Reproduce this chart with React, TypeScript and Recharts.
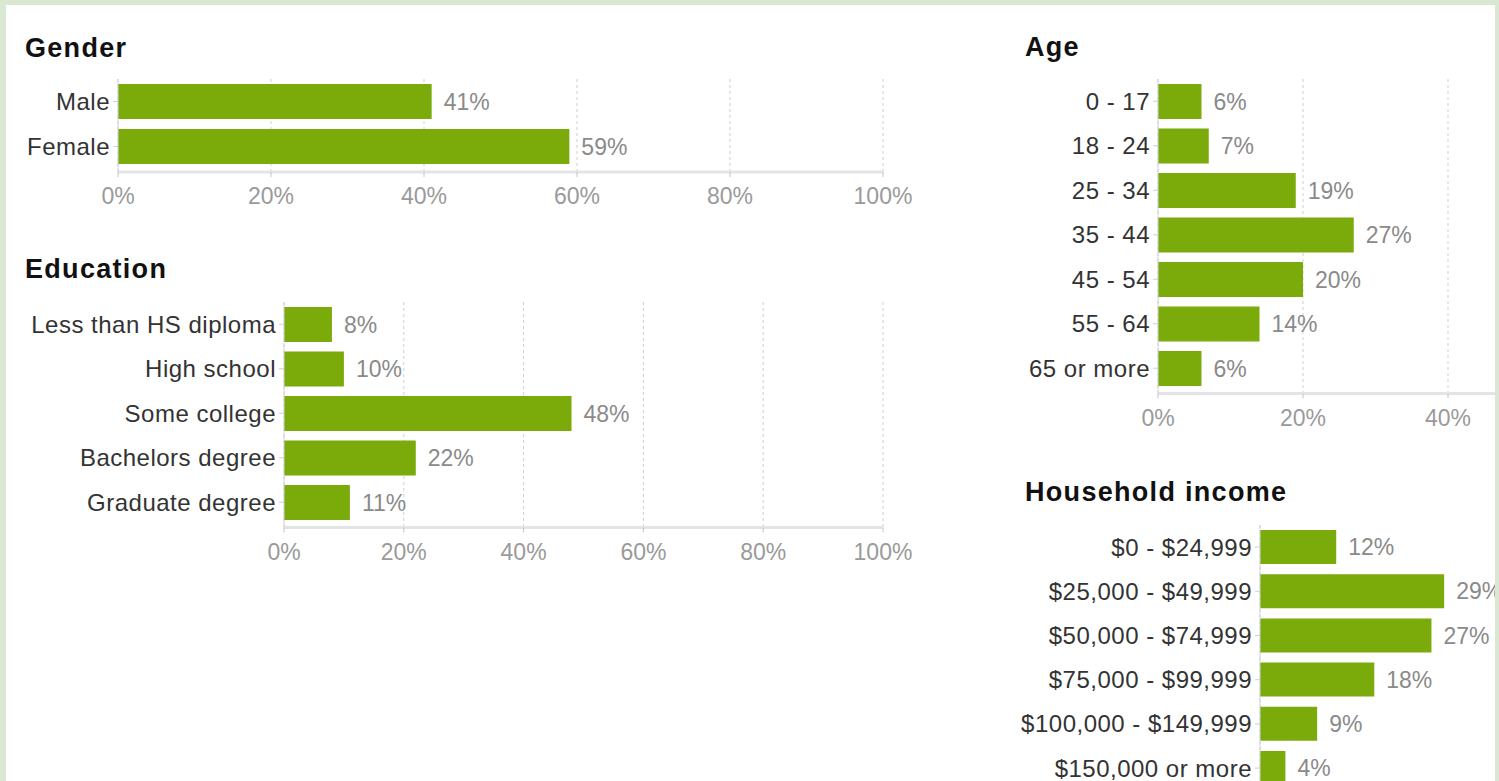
import { BarChart, Bar, XAxis, YAxis, CartesianGrid, LabelList } from 'recharts'

const genderCats = ['Male', 'Female']
const genderVals = [41, 59]

const educationCats = ['Less than HS diploma', 'High school', 'Some college', 'Bachelors degree', 'Graduate degree']
const educationVals = [8, 10, 48, 22, 11]

const ageCats = ['0 - 17', '18 - 24', '25 - 34', '35 - 44', '45 - 54', '55 - 64', '65 or more']
const ageVals = [6, 7, 19, 27, 20, 14, 6]

const incomeCats = ['$0 - $24,999', '$25,000 - $49,999', '$50,000 - $74,999', '$75,000 - $99,999', '$100,000 - $149,999', '$150,000 or more']
const incomeVals = [12, 29, 27, 18, 9, 4]

// tick labels shown; the right-hand panels are cut off by the page edge
const pctTicks = [0, 20, 40, 60, 80, 100]
const ageTicks = [0, 20, 40]
const incomeTicks = [0, 20]

const FONT = '"Liberation Sans", Arial, Helvetica, sans-serif'
const GREEN = '#7baa0b'
const PANEL_X = 6
const PANEL_Y = 5

interface Props {
  cats: string[]
  vals: number[]
  ticks: number[]
  plotLeft: number
  plotTop: number
  plotW: number
  step: number
  axisW: number
  barSize: number
  showTickLabels?: boolean
}

function HBar({ cats, vals, ticks, plotLeft, plotTop, plotW, step, axisW, barSize, showTickLabels = true }: Props) {
  const data = cats.map((name, i) => ({ name, value: vals[i] }))
  const padBottom = 3
  const plotH = cats.length * step + padBottom
  const right = 60
  return (
    <div style={{ position: 'absolute', left: plotLeft - axisW - PANEL_X, top: plotTop - PANEL_Y }}>
      <BarChart
        width={axisW + plotW + right}
        height={plotH + 50}
        data={data}
        layout="vertical"
        margin={{ top: 0, right, bottom: 0, left: 0 }}
        barCategoryGap={step - barSize}
      >
        <CartesianGrid horizontal={false} strokeDasharray="3 3" stroke="#cfcfcf" />
        <XAxis
          type="number"
          domain={[0, 100]}
          ticks={ticks}
          tickFormatter={(v) => `${v}%`}
          height={50}
          tick={showTickLabels ? { fill: '#9a9a9a', fontSize: 23, fontFamily: FONT } : false}
          axisLine={{ stroke: '#e3e3e8', strokeWidth: 3 }}
          tickLine={{ stroke: '#c4c4c4' }}
          tickSize={5}
          tickMargin={11}
        />
        <YAxis
          type="category"
          dataKey="name"
          width={axisW}
          padding={{ top: 0, bottom: padBottom }}
          tick={{ fill: '#333', fontSize: 24, fontFamily: FONT, letterSpacing: 0.5 }}
          axisLine={{ stroke: '#d2d2de' }}
          tickLine={{ stroke: '#cfcfcf' }}
          tickSize={5}
          tickMargin={3}
          interval={0}
        />
        <Bar dataKey="value" fill={GREEN} barSize={barSize} isAnimationActive={false}>
          <LabelList
            dataKey="value"
            position="right"
            offset={12}
            formatter={(v: any) => `${v}%`}
            style={{ fill: '#8a8a8a', fontSize: 23, fontFamily: FONT }}
          />
        </Bar>
      </BarChart>
    </div>
  )
}

function Title({ text, x, baseline }: { text: string; x: number; baseline: number }) {
  return (
    <div
      style={{
        position: 'absolute',
        left: x - PANEL_X,
        top: baseline - 23 - PANEL_Y,
        fontFamily: FONT,
        fontWeight: 'bold',
        fontSize: 27,
        lineHeight: '27px',
        letterSpacing: 1.3,
        color: '#111',
        whiteSpace: 'nowrap',
      }}
    >
      {text}
    </div>
  )
}

export default function App() {
  return (
    <div style={{ position: 'absolute', left: 0, top: 0, width: 1499, height: 781, background: '#d8e8d2', overflow: 'hidden' }}>
      <div style={{ position: 'absolute', left: PANEL_X, top: PANEL_Y, width: 1489, height: 790, background: '#fff', overflow: 'hidden' }}>
        <Title text="Gender" x={25} baseline={58} />
        <HBar cats={genderCats} vals={genderVals} ticks={pctTicks} plotLeft={118} plotTop={79} plotW={765} step={45} axisW={110} barSize={35} />

        <Title text="Education" x={25} baseline={279} />
        <HBar cats={educationCats} vals={educationVals} ticks={pctTicks} plotLeft={284} plotTop={302} plotW={599} step={44.5} axisW={275} barSize={35} />

        <Title text="Age" x={1025} baseline={57} />
        <HBar cats={ageCats} vals={ageVals} ticks={ageTicks} plotLeft={1158} plotTop={79} plotW={725} step={44.5} axisW={140} barSize={35} />

        <Title text="Household income" x={1025} baseline={502} />
        <HBar cats={incomeCats} vals={incomeVals} ticks={incomeTicks} plotLeft={1260} plotTop={525} plotW={635} step={44.2} axisW={250} barSize={34} showTickLabels={false} />
      </div>
    </div>
  )
}
